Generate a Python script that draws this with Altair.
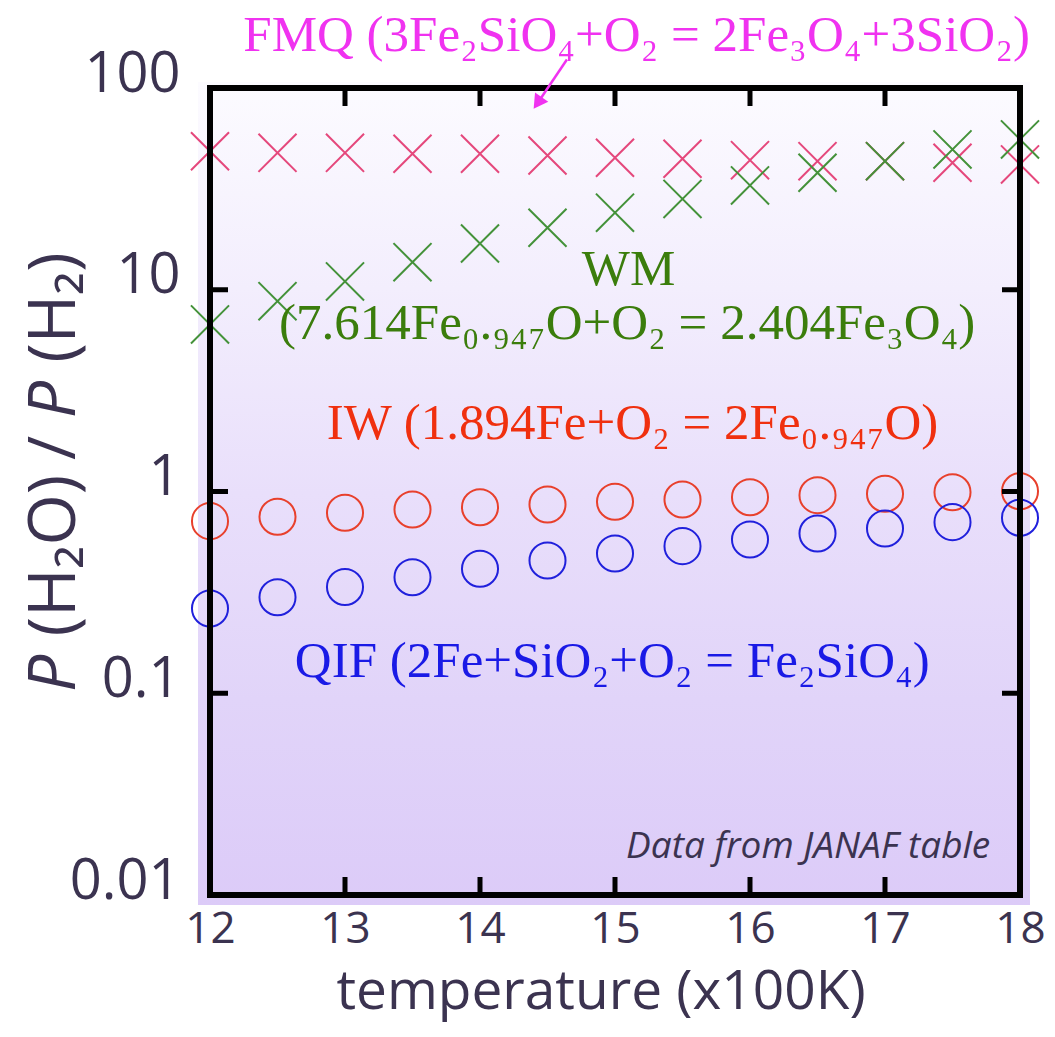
import altair as alt
import pandas as pd

# ---- data ----
temps = [12, 12.5, 13, 13.5, 14, 14.5, 15, 15.5, 16, 16.5, 17, 17.5, 18]
fmq = [48.6, 47.7, 47.7, 47.2, 47.2, 46.3, 45.1, 44.6, 43.9, 43.4, 43.4, 42.6, 41.8]
wm = [6.73, 8.78, 11.0, 13.7, 16.95, 20.3, 24.1, 28.2, 32.9, 38.0, 43.4, 49.6, 55.6]
iw = [0.713, 0.749, 0.784, 0.814, 0.836, 0.862, 0.889, 0.913, 0.937, 0.959, 0.974, 0.992, 1.003]
qif = [0.263, 0.299, 0.336, 0.376, 0.414, 0.455, 0.493, 0.536, 0.578, 0.619, 0.656, 0.705, 0.741]

series = ["FMQ", "WM", "IW", "QIF"]
series_colors = ["#e5487c", "#44923a", "#e8402c", "#2020dc"]

x_ticks = [12, 13, 14, 15, 16, 17, 18]
y_ticks = [0.01, 0.1, 1, 10, 100]
x_inner = [13, 14, 15, 16, 17]
y_inner = [0.1, 1, 10]

x_title = "temperature (x100K)"
# y-axis title pieces: (text, style, offset along the title in em)
ytitle_parts = [("P", "italic", 0.0), ("(H₂O)", "normal", 0.84),
                ("/", "normal", 3.516), ("P", "italic", 4.147),
                ("(H₂)", "normal", 4.987)]

W, H = 810, 807
TL = 18  # inward tick length (px)
INK = "#3b3350"

xs = alt.Scale(domain=[12, 18], nice=False, zero=False)
ys = alt.Scale(type="log", domain=[0.01, 100], nice=False)
cs = alt.Scale(domain=series, range=series_colors)

xax = alt.Axis(
    values=x_ticks, title=None, grid=False, domain=False,
    ticks=False, labelFontSize=44, labelColor=INK, labelFont="Open Sans",
    labelPadding=12, labelFlush=False)
yax = alt.Axis(
    values=y_ticks, format="~g", title=None, grid=False,
    domain=False, ticks=False, labelFontSize=56, labelColor=INK,
    labelFont="Open Sans", labelPadding=30, labelOffset=-14, labelFlush=False)


def X(field):
    return alt.X(field, scale=xs, axis=xax)


def Y(field):
    return alt.Y(field, scale=ys, axis=yax)


cross_df = pd.DataFrame({
    "T": temps * 2,
    "v": fmq + wm,
    "s": ["FMQ"] * len(temps) + ["WM"] * len(temps),
})
circ_df = pd.DataFrame({
    "T": temps * 2,
    "v": iw + qif,
    "s": ["IW"] * len(temps) + ["QIF"] * len(temps),
})

one = pd.DataFrame({"a": [0]})

bg = alt.Chart(one).mark_rect(
    fill=alt.Gradient(
        gradient="linear",
        stops=[
            alt.GradientStop(color="#fcfbff", offset=0),
            alt.GradientStop(color="#f3eefd", offset=0.25),
            alt.GradientStop(color="#e9dffb", offset=0.5),
            alt.GradientStop(color="#e1d4f9", offset=0.75),
            alt.GradientStop(color="#dccbf8", offset=1),
        ],
        x1=0, x2=0, y1=0, y2=1,
    )
).encode(x=alt.value(-12), x2=alt.value(W + 10), y=alt.value(-6), y2=alt.value(H + 10))

X_PATH = "M-1,-1L1,1M-1,1L1,-1"

crosses = alt.Chart(cross_df).mark_point(
    shape=X_PATH, size=1450, strokeWidth=2, filled=False, opacity=1
).encode(x=X("T:Q"), y=Y("v:Q"), color=alt.Color("s:N", scale=cs, legend=None))

circles = alt.Chart(circ_df).mark_point(
    shape="circle", size=1300, strokeWidth=2, filled=False, opacity=1
).encode(x=X("T:Q"), y=Y("v:Q"), color=alt.Color("s:N", scale=cs, legend=None))

# inward ticks
left_t = alt.Chart(pd.DataFrame({"v": y_inner})).mark_rule(
    color="black", strokeWidth=5).encode(y=Y("v:Q"), x=alt.value(0), x2=alt.value(TL))
right_t = alt.Chart(pd.DataFrame({"v": y_inner})).mark_rule(
    color="black", strokeWidth=5).encode(y=Y("v:Q"), x=alt.value(W - TL), x2=alt.value(W))
bot_t = alt.Chart(pd.DataFrame({"T": x_inner})).mark_rule(
    color="black", strokeWidth=5).encode(x=X("T:Q"), y=alt.value(H), y2=alt.value(H - TL))
top_t = alt.Chart(pd.DataFrame({"T": x_inner})).mark_rule(
    color="black", strokeWidth=5).encode(x=X("T:Q"), y=alt.value(0), y2=alt.value(TL))

border = alt.Chart(one).mark_rect(
    fillOpacity=0, stroke="black", strokeWidth=6).encode(
    x=alt.value(0), x2=alt.value(W), y=alt.value(0), y2=alt.value(H))


def label(text, x, y, color, size=51, font="Liberation Serif", style="normal",
          align="center"):
    return alt.Chart(pd.DataFrame({"x": [x], "y": [y], "t": [text]})).mark_text(
        font=font, fontSize=size, color=color, fontStyle=style, align=align,
        baseline="middle", clip=False,
    ).encode(x=X("x:Q"), y=Y("y:Q"), text="t:N")


ann = [
    label("FMQ (3Fe₂SiO₄+O₂ = 2Fe₃O₄+3SiO₂)", 15.16, 180, "#f032f0"),
    label("WM", 15.10, 12.6, "#3b7d0c"),
    label("(7.614Fe₀.₉₄₇O+O₂ = 2.404Fe₃O₄)", 15.09, 6.73, "#3b7d0c"),
    label("IW (1.894Fe+O₂ = 2Fe₀.₉₄₇O)", 15.13, 2.15, "#f0300f"),
    label("QIF (2Fe+SiO₂+O₂ = Fe₂SiO₄)", 14.98, 0.1436, "#1a1ae6"),
    label("Data from JANAF table", 17.78, 0.0172, INK, size=37,
          font="Open Sans", style="italic", align="right"),
]

# x-axis title as a text annotation below the tick labels
xtitle = alt.Chart(pd.DataFrame({"t": [x_title]})).mark_text(
    font="Open Sans", fontSize=55, color=INK, align="center",
    baseline="alphabetic", clip=False,
).encode(x=alt.value(391), y=alt.value(H + 114), text="t:N")

# y-axis title drawn as rotated text pieces (italic P), running upward
YT_SIZE = 66
Y0 = 604
ytitle = []
for txt, sty, off in ytitle_parts:
    ytitle.append(
        alt.Chart(pd.DataFrame({"t": [txt]})).mark_text(
            font="Open Sans", fontSize=YT_SIZE, color=INK, angle=270,
            align="left", baseline="middle", fontStyle=sty, clip=False,
        ).encode(x=alt.value(-155), y=alt.value(Y0 - off * YT_SIZE), text="t:N")
    )

arrow_line = alt.Chart(pd.DataFrame({"x": [14.644], "y": [138.4],
                                     "x2": [14.427], "y2": [84.3]})).mark_rule(
    color="#f032f0", strokeWidth=2.5).encode(
    x=X("x:Q"), y=Y("y:Q"), x2="x2:Q", y2="y2:Q")
arrow_head = alt.Chart(pd.DataFrame({"x": [14.427], "y": [84.3]})).mark_point(
    shape="triangle-down", size=260, filled=True, color="#f032f0", opacity=1,
    angle=35).encode(x=X("x:Q"), y=Y("y:Q"))

chart = alt.layer(
    bg, crosses, circles, left_t, right_t, bot_t, top_t, border,
    arrow_line, arrow_head, xtitle, *ytitle, *ann,
).properties(
    width=W, height=H,
    padding={"left": 210, "top": 88, "right": 35, "bottom": 142},
    autosize=alt.AutoSizeParams(type="none"),
    background="white",
).configure_view(stroke=None)

chart.save("out.html", embed_options={"renderer": "svg", "actions": False})
